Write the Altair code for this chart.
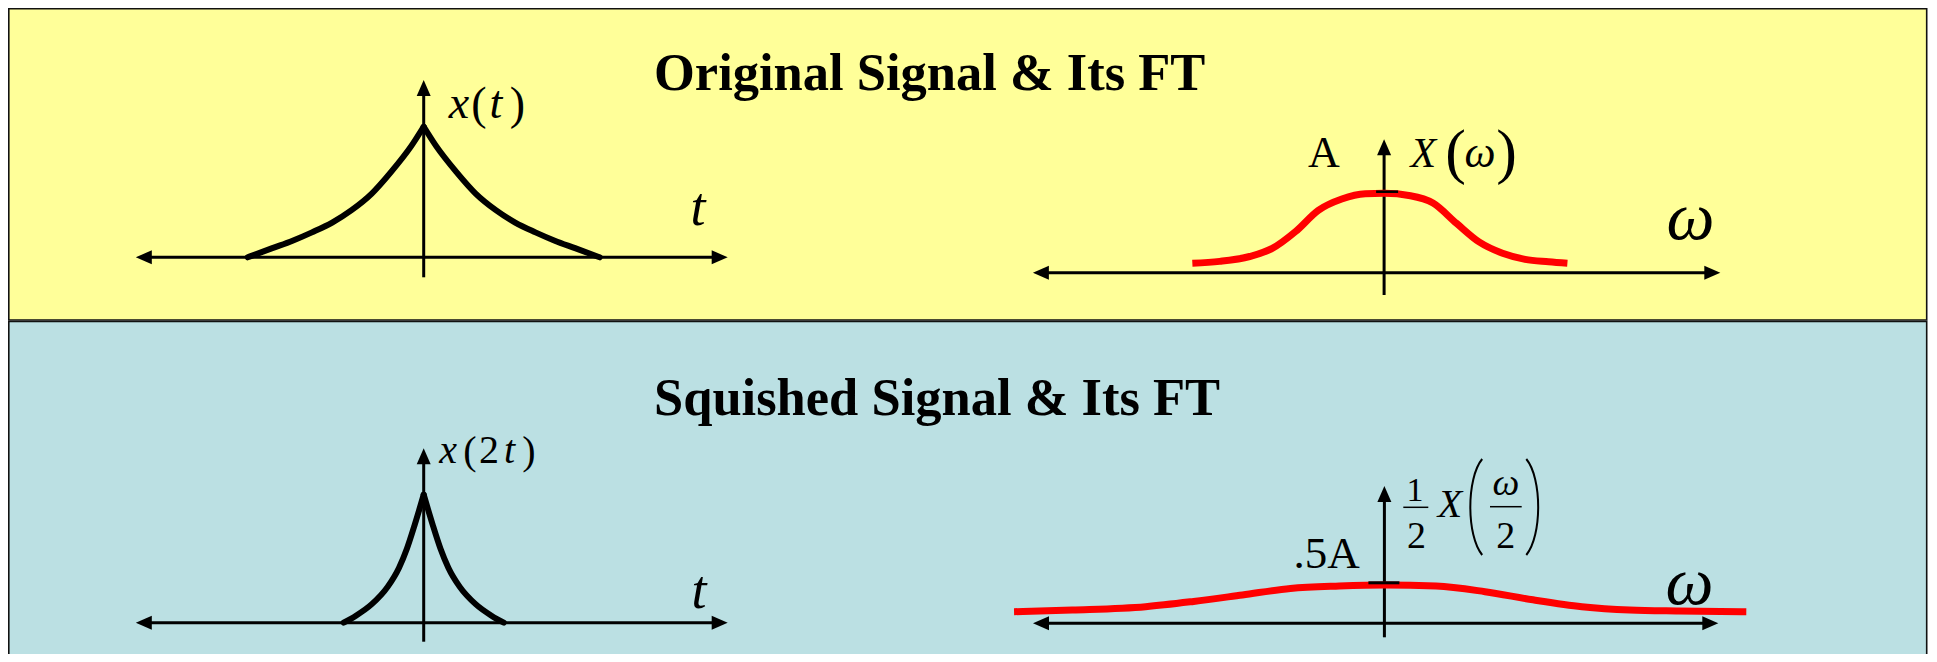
import altair as alt
import pandas as pd

W, H, M = 1921, 646, 8  # canvas size and page margin

# ---------------- data ----------------
# x(t): time units, amplitude normalised to x(0) = 1
xt_t_left = [-2.0, -1.72, -1.49, -1.27, -1.04, -0.82, -0.59, -0.37, -0.14, 0.0]
xt_v_left = [0.0, 0.070, 0.127, 0.191, 0.266, 0.361, 0.488, 0.654, 0.853, 1.0]
xt_t_right = [0.0, 0.14, 0.37, 0.59, 0.82, 1.04, 1.27, 1.49, 1.72, 2.0]
xt_v_right = [1.0, 0.853, 0.654, 0.488, 0.361, 0.266, 0.191, 0.127, 0.070, 0.0]

# x(2t)
x2t_t_left = [-0.91, -0.77, -0.59, -0.41, -0.28, -0.19, -0.10, 0.0]
x2t_v_left = [0.0, 0.055, 0.145, 0.28, 0.43, 0.58, 0.77, 1.0]
x2t_t_right = [0.0, 0.10, 0.19, 0.28, 0.41, 0.59, 0.77, 0.91]
x2t_v_right = [1.0, 0.77, 0.58, 0.43, 0.28, 0.145, 0.055, 0.0]

# X(w), amplitude in units of A
Xw_w = [-2.04, -1.75, -1.43, -1.19, -0.94, -0.70, -0.45, -0.20, 0.0, 0.28, 0.52, 0.77, 1.01, 1.26, 1.50, 1.75, 1.95]
Xw_v = [0.116, 0.14, 0.20, 0.30, 0.51, 0.77, 0.91, 0.975, 0.98, 0.95, 0.86, 0.61, 0.38, 0.24, 0.165, 0.135, 0.116]

# 1/2 X(w/2)
Xw2_w = [-3.94, -3.32, -2.54, -2.03, -1.51, -1.00, -0.48, 0.0, 0.55, 1.07, 1.58, 2.10, 2.61, 3.13, 3.85]
Xw2_v = [0.143, 0.164, 0.205, 0.27, 0.35, 0.43, 0.46, 0.473, 0.46, 0.39, 0.29, 0.205, 0.164, 0.152, 0.143]

A_level = 1.0
half_A_level = 0.5

titles = ["Original Signal & Its FT", "Squished Signal & Its FT"]

# ---------------- layout (page pixels) ----------------
PLOTS = {
    "orig_time": dict(ox=423.7, oy=257.3, sx=88.0, sy=130.6, left=287.9, right=304.0, up=177.3, down=20.0),
    "orig_freq": dict(ox=1384.1, oy=272.7, sx=94.0, sy=81.0, left=351.2, right=336.2, up=133.4, down=22.3),
    "sq_time": dict(ox=423.7, oy=622.7, sx=88.0, sy=128.0, left=287.9, right=304.0, up=174.4, down=19.0),
    "sq_freq": dict(ox=1384.4, oy=623.3, sx=94.0, sy=81.0, left=351.4, right=333.9, up=137.3, down=14.0),
}
HEAD = 8  # half length of arrow heads


def cx(px):
    return px - M


def cy(py):
    return py - M


def pt(p, u, v):
    return cx(p["ox"] + u * p["sx"]), cy(p["oy"] - v * p["sy"])


# curves
curve_rows = []


def add_curve(plot, branch, us, vs, colour):
    p = PLOTS[plot]
    for u, v in zip(us, vs):
        x, y = pt(p, u, v)
        curve_rows.append(dict(branch=plot + branch, colour=colour, cx=x, cy=y))


add_curve("orig_time", "L", xt_t_left, xt_v_left, "k")
add_curve("orig_time", "R", xt_t_right, xt_v_right, "k")
add_curve("sq_time", "L", x2t_t_left, x2t_v_left, "k")
add_curve("sq_time", "R", x2t_t_right, x2t_v_right, "k")
add_curve("orig_freq", "", Xw_w, Xw_v, "r")
add_curve("sq_freq", "", Xw2_w, Xw2_v, "r")
curves = pd.DataFrame(curve_rows)

# axes
rule_rows, left_rows, right_rows, up_rows = [], [], [], []
for name, p in PLOTS.items():
    ox, oy = p["ox"], p["oy"]
    rule_rows.append(dict(cx=cx(ox - p["left"] + HEAD), cx2=cx(ox + p["right"] - HEAD), cy=cy(oy), cy2=cy(oy)))
    rule_rows.append(dict(cx=cx(ox), cx2=cx(ox), cy=cy(oy - p["up"] + HEAD), cy2=cy(oy + p["down"])))
    left_rows.append(dict(cx=cx(ox - p["left"] + HEAD), cy=cy(oy)))
    right_rows.append(dict(cx=cx(ox + p["right"] - HEAD), cy=cy(oy)))
    up_rows.append(dict(cx=cx(ox), cy=cy(oy - p["up"] + HEAD)))
axes_df = pd.DataFrame(rule_rows)

pf, ps = PLOTS["orig_freq"], PLOTS["sq_freq"]
ticks_df = pd.DataFrame([
    dict(cx=cx(pf["ox"] - 8), cx2=cx(pf["ox"] + 14), cy=cy(pf["oy"] - A_level * pf["sy"]), cy2=cy(pf["oy"] - A_level * pf["sy"]), w=2.5),
    dict(cx=cx(ps["ox"] - 16), cx2=cx(ps["ox"] + 15), cy=cy(ps["oy"] - half_A_level * ps["sy"]), cy2=cy(ps["oy"] - half_A_level * ps["sy"]), w=3.0),
])
fracbar_df = pd.DataFrame([
    dict(cx=cx(1403.3), cx2=cx(1428.3), cy=cy(507.3), cy2=cy(507.3)),
    dict(cx=cx(1490.0), cx2=cx(1521.7), cy=cy(506.7), cy2=cy(506.7)),
])

# panels
panels_df = pd.DataFrame([
    dict(cx=cx(8.8), cx2=cx(1926.7), cy=cy(8.8), cy2=cy(320.0), fill="#FFFF99"),
    dict(cx=cx(8.8), cx2=cx(1926.7), cy=cy(321.5), cy2=cy(700.0), fill="#BBE0E3"),
])

# texts
title_df = pd.DataFrame(dict(text=titles, cx=[cx(654), cx(654)], cy=[cy(90), cy(415)]))
italic_df = pd.DataFrame([
    dict(text="x", fs=46, cx=cx(459.0), cy=cy(118.3)),
    dict(text="t", fs=46, cx=cx(496.0), cy=cy(118.3)),
    dict(text="t", fs=54, cx=cx(698.0), cy=cy(225.0)),
    dict(text="t", fs=54, cx=cx(699.0), cy=cy(608.3)),
    dict(text="x", fs=40, cx=cx(448.0), cy=cy(463.3)),
    dict(text="t", fs=40, cx=cx(509.5), cy=cy(463.3)),
    dict(text="X", fs=42, cx=cx(1423.3), cy=cy(166.7)),
    dict(text="ω", fs=44, cx=cx(1480.0), cy=cy(166.7)),
    dict(text="ω", fs=68, cx=cx(1690.5), cy=cy(239.0)),
    dict(text="ω", fs=68, cx=cx(1689.5), cy=cy(604.0)),
    dict(text="X", fs=40, cx=cx(1450.0), cy=cy(516.7)),
    dict(text="ω", fs=38, cx=cx(1505.8), cy=cy(495.0)),
])
roman_df = pd.DataFrame([
    dict(text="(", fs=46, cx=cx(478.8), cy=cy(119.0)),
    dict(text=")", fs=46, cx=cx(517.4), cy=cy(119.0)),
    dict(text="(", fs=40, cx=cx(470.0), cy=cy(464.0)),
    dict(text="2", fs=40, cx=cx(489.0), cy=cy(463.3)),
    dict(text=")", fs=40, cx=cx(529.0), cy=cy(464.0)),
    dict(text="A", fs=44, cx=cx(1324.0), cy=cy(166.7)),
    dict(text="(", fs=62, cx=cx(1455.5), cy=cy(171.5)),
    dict(text=")", fs=62, cx=cx(1506.5), cy=cy(171.5)),
    dict(text=".5A", fs=45, cx=cx(1326.7), cy=cy(568.3)),
    dict(text="1", fs=34, cx=cx(1415.0), cy=cy(501.0)),
    dict(text="2", fs=38, cx=cx(1416.5), cy=cy(548.3)),
    dict(text="2", fs=38, cx=cx(1505.8), cy=cy(548.3)),
])
open_paren_df = pd.DataFrame([dict(cx=cx(1475.0), cy=cy(507.0))])
close_paren_df = pd.DataFrame([dict(cx=cx(1533.5), cy=cy(507.0))])

# ---------------- chart ----------------
XS = alt.Scale(domain=[0, W], nice=False, zero=False)
YS = alt.Scale(domain=[0, H], nice=False, zero=False, reverse=True)
X = alt.X("cx:Q", scale=XS, axis=None)
Y = alt.Y("cy:Q", scale=YS, axis=None)
X2 = alt.X2("cx2:Q")
Y2 = alt.Y2("cy2:Q")

bg = alt.Chart(panels_df).mark_rect(stroke="#111111", strokeWidth=1.6).encode(
    x=X, x2=X2, y=Y, y2=Y2, fill=alt.Fill("fill:N", scale=None))

axes = alt.Chart(axes_df).mark_rule(color="black", strokeWidth=3).encode(x=X, x2=X2, y=Y, y2=Y2)


def head_layer(rows, path):
    return alt.Chart(pd.DataFrame(rows)).mark_point(
        shape=path, filled=True, size=256, opacity=1, color="black").encode(x=X, y=Y)


heads_left = head_layer(left_rows, "M-1,0L1,-0.875L1,0.875Z")
heads_right = head_layer(right_rows, "M1,0L-1,-0.875L-1,0.875Z")
heads_up = head_layer(up_rows, "M0,-1L-0.875,1L0.875,1Z")

black_curves = alt.Chart(curves[curves.colour == "k"]).mark_line(
    color="black", strokeWidth=6, interpolate="monotone", strokeCap="round", strokeJoin="round").encode(
    x=X, y=Y, detail="branch:N", order=alt.Order("cx:Q"))

red_curves = alt.Chart(curves[curves.colour == "r"]).mark_line(
    color="#FF0000", strokeWidth=7, interpolate="monotone").encode(
    x=X, y=Y, detail="branch:N", order=alt.Order("cx:Q"))

ticks = alt.Chart(ticks_df).mark_rule(color="black").encode(
    x=X, x2=X2, y=Y, y2=Y2, strokeWidth=alt.StrokeWidth("w:Q", scale=None))

fracbars = alt.Chart(fracbar_df).mark_rule(color="black", strokeWidth=1.5).encode(x=X, x2=X2, y=Y, y2=Y2)

open_paren = alt.Chart(open_paren_df).mark_point(
    shape="M0.15,-1C-0.18,-0.6,-0.18,0.6,0.15,1", filled=False, size=96 * 96, strokeWidth=2,
    opacity=1, color="black").encode(x=X, y=Y)
close_paren = alt.Chart(close_paren_df).mark_point(
    shape="M-0.15,-1C0.18,-0.6,0.18,0.6,-0.15,1", filled=False, size=96 * 96, strokeWidth=2,
    opacity=1, color="black").encode(x=X, y=Y)

title_txt = alt.Chart(title_df).mark_text(
    font="Liberation Serif", fontWeight="bold", fontSize=52.5, align="left", baseline="alphabetic", color="black"
).encode(x=X, y=Y, text="text:N")

italic_txt = alt.Chart(italic_df).mark_text(
    font="Liberation Serif", fontStyle="italic", align="center", baseline="alphabetic", color="black"
).encode(x=X, y=Y, text="text:N", size=alt.Size("fs:Q", scale=None))

roman_txt = alt.Chart(roman_df).mark_text(
    font="Liberation Serif", align="center", baseline="alphabetic", color="black"
).encode(x=X, y=Y, text="text:N", size=alt.Size("fs:Q", scale=None))

chart = alt.layer(
    bg, axes, heads_left, heads_right, heads_up, black_curves, red_curves, ticks, fracbars,
    open_paren, close_paren, title_txt, italic_txt, roman_txt
).properties(
    width=W, height=H, padding=0, background="white",
    autosize=alt.AutoSizeParams(type="none"),
).configure_view(stroke=None)

chart.save("out.html", embed_options={"renderer": "svg", "actions": False})
